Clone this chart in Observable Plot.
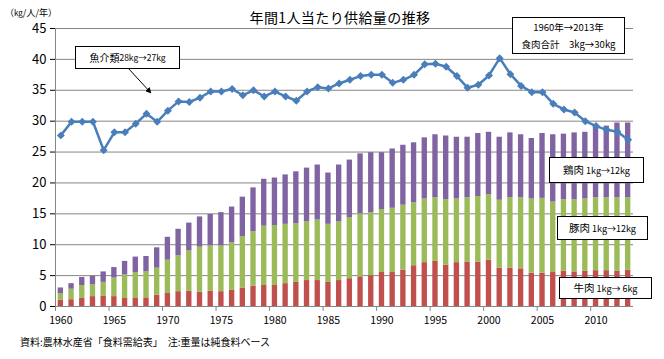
<!DOCTYPE html>
<html><head><meta charset="utf-8">
<script src="https://cdn.jsdelivr.net/npm/d3@7"></script>
<script src="https://cdn.jsdelivr.net/npm/@observablehq/plot@0.6"></script>
<style>
html,body{margin:0;padding:0;background:#fff;}
#wrap{position:relative;width:664px;height:359px;font-family:"Noto Sans CJK JP",sans-serif;color:#000;overflow:hidden;}
#chart{position:absolute;left:0;top:0;}
.t{position:absolute;white-space:nowrap;line-height:1;}
.box{position:absolute;background:#fff;border:1px solid #000;box-sizing:border-box;display:flex;flex-direction:column;align-items:center;justify-content:center;white-space:nowrap;font-size:10px;line-height:1;}
#chart g[aria-label^="x-axis"] text{font-size:10.5px;}
#chart g[aria-label^="y-axis"] text{font-size:13px;}
</style>
</head><body>
<div id="wrap">
  <div id="chart"></div>
  <div class="t" style="left:240px;width:200px;top:10px;text-align:center;font-size:14px;letter-spacing:0.4px;">年間1人当たり供給量の推移</div>
  <div class="t" style="left:5px;top:8px;font-size:9px;">（<span style="font-size:8px">kg</span>/人/年）</div>
  <div class="t" style="left:20px;top:337px;font-size:10px;">資料:農林水産省「食料需給表」　注:重量は純食料ベース</div>
  <svg style="position:absolute;left:0;top:0;" width="664" height="359">
    <defs><marker id="ah" viewBox="0 0 10 10" refX="9" refY="5" markerWidth="6" markerHeight="6" orient="auto"><path d="M0,0L10,5L0,10z" fill="#000"/></marker></defs>
    <line x1="128" y1="68" x2="151" y2="93" stroke="#000" stroke-width="1" marker-end="url(#ah)"/>
  </svg>
  <div class="box" style="left:75px;top:46px;width:105px;height:23px;flex-direction:row;"><span style="font-size:10px">魚介類</span><span style="font-size:8.5px">28kg→27kg</span></div>
  <div class="box" style="left:512px;top:17px;width:113px;height:37px;font-size:9.5px;line-height:17px;"><div>1960年→2013年</div><div>食肉合計　3kg→30kg</div></div>
  <div class="box" style="left:549px;top:157px;width:95px;height:26px;flex-direction:row;"><span style="font-size:10.5px">鶏肉</span><span style="font-size:9px">&nbsp;1kg→12kg</span></div>
  <div class="box" style="left:557px;top:216px;width:91px;height:24px;flex-direction:row;"><span style="font-size:10.5px">豚肉</span><span style="font-size:9px">&nbsp;1kg→12kg</span></div>
  <div class="box" style="left:559px;top:277px;width:93px;height:22px;flex-direction:row;"><span style="font-size:10.5px">牛肉</span><span style="font-size:9px">&nbsp;1kg→ 6kg</span></div>
</div>
<script>
const years = [1960,1961,1962,1963,1964,1965,1966,1967,1968,1969,
  1970,1971,1972,1973,1974,1975,1976,1977,1978,1979,
  1980,1981,1982,1983,1984,1985,1986,1987,1988,1989,
  1990,1991,1992,1993,1994,1995,1996,1997,1998,1999,
  2000,2001,2002,2003,2004,2005,2006,2007,2008,2009,
  2010,2011,2012,2013];
const beef = [1.0,1.1,1.3,1.6,1.7,1.6,1.3,1.4,1.4,1.8,
  2.2,2.4,2.5,2.3,2.5,2.4,2.6,3.0,3.3,3.4,
  3.4,3.7,3.9,4.2,4.2,3.9,4.2,4.5,4.8,5.0,
  5.5,5.5,5.9,6.6,7.1,7.3,6.7,7.1,7.2,7.2,
  7.5,6.2,6.2,6.1,5.4,5.4,5.5,5.7,5.6,5.7,
  5.8,5.8,5.7,5.9];
const pork = [1.1,1.7,2.1,1.9,2.2,3.0,3.8,4.1,4.2,4.4,
  5.3,5.8,6.5,7.3,7.3,7.4,7.7,8.3,8.8,9.6,
  9.7,9.6,9.5,9.5,9.8,9.4,9.5,9.9,10.2,10.2,
  10.2,10.4,10.5,10.2,10.3,10.3,10.6,10.3,10.4,10.6,
  10.6,11.0,11.4,11.5,12.0,12.1,11.4,11.6,11.7,11.7,
  11.8,11.8,11.9,11.7];
const chicken = [0.9,0.9,1.3,1.4,1.7,1.7,2.2,2.5,2.5,3.3,
  3.7,4.3,4.5,4.9,5.1,5.4,5.8,6.4,7.1,7.6,
  7.7,8.0,8.4,8.7,8.9,8.3,9.2,9.3,9.7,9.7,
  9.2,9.6,9.7,9.7,9.9,10.2,10.3,10.0,9.8,10.2,
  10.1,10.2,10.5,10.2,9.8,10.5,10.9,10.6,10.8,10.8,
  11.4,11.6,12.1,12.1];
const fish = [27.7,29.9,29.9,29.9,25.3,28.2,28.2,29.6,31.2,29.9,
  31.7,33.2,33.1,33.8,34.8,34.8,35.2,34.2,35.0,34.0,
  34.8,34.0,33.3,34.8,35.5,35.3,36.1,36.7,37.3,37.5,
  37.5,36.2,36.7,37.5,39.2,39.3,38.8,37.3,35.4,35.9,
  37.4,40.2,37.6,35.7,34.7,34.7,32.8,31.9,31.4,30.0,
  29.2,28.6,28.3,27.0];
const seriesNames = ["牛肉","豚肉","鶏肉"];
const seriesColors = ["#C0504D","#9BBB59","#8064A2"];
const xTicks = [1960,1965,1970,1975,1980,1985,1990,1995,2000,2005,2010];
const yTicks = [0,5,10,15,20,25,30,35,40,45];

const seriesValues = [beef, pork, chicken];
const stacked = [];
years.forEach((yr, i) => {
  seriesNames.forEach((name, k) => stacked.push({year: yr, kind: name, value: seriesValues[k][i]}));
});
const fishRows = years.map((yr, i) => ({year: yr, value: fish[i]}));

const W = 664, H = 359, mL = 55, mR = 31, mT = 28, mB = 53;
const step = (W - mL - mR) / years.length;

const chart = Plot.plot({
  width: W, height: H,
  marginTop: mT, marginBottom: mB, marginLeft: mL, marginRight: mR,
  style: {fontFamily: "'Noto Sans CJK JP', sans-serif", fontSize: "13px", color: "#000", background: "transparent"},
  x: {type: "band", domain: years, paddingInner: 0.5, paddingOuter: 0.25, align: 0.5, round: false,
      ticks: xTicks, tickFormat: d => String(d), tickSize: 0, tickPadding: 10, label: null},
  y: {domain: [0, 45], ticks: yTicks, tickFormat: d => String(d), tickSize: 5, tickPadding: 4, label: null},
  color: {domain: seriesNames, range: seriesColors},
  marks: [
    Plot.ruleY(yTicks.filter(v => v > 0), {stroke: "#868686", strokeWidth: 1}),
    Plot.barY(stacked, {x: "year", y: "value", fill: "kind"}),
    Plot.ruleY([0], {stroke: "#868686"}),
    Plot.ruleX([years[0]], {dx: -step / 2, stroke: "#868686"}),
    Plot.ruleX(xTicks, {x: d => d, y1: () => 0, y2: () => -0.8, dx: -step / 2, stroke: "#868686"}),
    Plot.line(fishRows, {x: "year", y: "value", stroke: "#4A7EBB", strokeWidth: 2.5}),
    Plot.dot(fishRows, {x: "year", y: "value", symbol: "diamond2", r: 3.6, fill: "#4A7EBB", stroke: "none"})
  ]
});
document.getElementById("chart").appendChild(chart);
</script>
</body></html>
